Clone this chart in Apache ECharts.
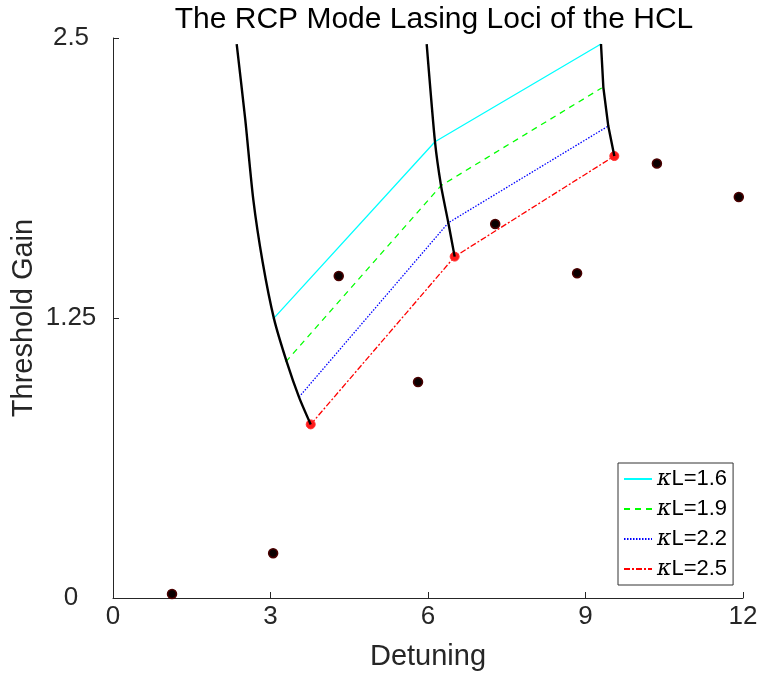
<!DOCTYPE html>
<html>
<head>
<meta charset="utf-8">
<script src="https://cdn.jsdelivr.net/npm/echarts@6/dist/echarts.min.js"></script>
<style>
  html, body { margin: 0; padding: 0; background: #fff; }
  #chart { width: 759px; height: 677px; }
</style>
</head>
<body>
<div id="chart"></div>
<script>
// Threshold gain vs detuning for the RCP lasing modes
const xTicks = [0, 3, 6, 9, 12];
const yTicks = [0, 1.25, 2.5];

// kappa*L loci (three mode branches each)
const kL16 = [[3.048, 1.245], [6.133, 2.037], [9.295, 2.473]];
const kL19 = [[3.290, 1.054], [6.248, 1.841], [9.308, 2.277]];
const kL22 = [[3.543, 0.897], [6.387, 1.675], [9.434, 2.107]];
const kL25 = [[3.766, 0.775], [6.508, 1.524], [9.549, 1.973]];

// mode branches traced as kappa*L varies
const branch1 = [[2.356, 2.473], [2.52, 2.134], [2.673, 1.777], [2.85, 1.50], [3.067, 1.246], [3.309, 1.054], [3.543, 0.897], [3.766, 0.775]];
const branch2 = [[5.975, 2.473], [6.133, 2.037], [6.248, 1.841], [6.387, 1.675], [6.508, 1.524]];
const branch3 = [[9.295, 2.473], [9.34, 2.28], [9.434, 2.107], [9.549, 1.973]];

// uncoupled cavity modes
const cavityModes = [[1.124, 0.018], [3.05, 0.20], [4.30, 1.4375], [5.81, 0.964], [7.28, 1.67], [8.84, 1.45], [10.36, 1.94], [11.92, 1.79]];
// lasing modes at kappa*L = 2.5
const lasingModes = [[3.766, 0.775], [6.508, 1.524], [9.549, 1.973]];

const seriesNames = ['\u03baL=1.6', '\u03baL=1.9', '\u03baL=2.2', '\u03baL=2.5'];
const FONT = 'Liberation Sans, Arial, sans-serif';
const AX = '#262626';

const chart = echarts.init(document.getElementById('chart'), null, { renderer: 'canvas' });

function locus(name, data, color, type) {
  return {
    name: name, type: 'line', data: data, symbol: 'none', z: 3,
    lineStyle: { color: color, width: 1.3, type: type },
    itemStyle: { color: color }
  };
}
function branch(data, smooth) {
  return {
    type: 'line', data: data, symbol: 'none', smooth: smooth, z: 5,
    lineStyle: { color: '#000', width: 2.4, join: 'round' }
  };
}

chart.setOption({
  animation: false,
  title: {
    text: 'The RCP Mode Lasing Loci of the HCL',
    left: 429, top: 0, textAlign: 'center',
    textStyle: { fontFamily: FONT, fontSize: 30, fontWeight: 'normal', color: '#000' }
  },
  grid: { left: 113, right: 16, top: 38, bottom: 79, outerBoundsMode: 'none', containLabel: false },
  xAxis: {
    type: 'value', min: 0, max: 12, interval: 3,
    name: 'Detuning', nameLocation: 'middle', nameGap: 44,
    nameTextStyle: { fontFamily: FONT, fontSize: 29, color: AX },
    axisLine: { lineStyle: { color: AX, width: 1 } },
    axisTick: { inside: true, length: 6, lineStyle: { color: AX } },
    axisLabel: { fontFamily: FONT, fontSize: 26, color: AX, margin: 6,
      formatter: v => xTicks.includes(v) ? String(v) : '' },
    splitLine: { show: false }
  },
  yAxis: {
    type: 'value', min: 0, max: 2.5, interval: 1.25,
    name: 'Threshold Gain', nameLocation: 'middle', nameGap: 75, nameMoveOverlap: false,
    nameTextStyle: { fontFamily: FONT, fontSize: 29, color: AX },
    axisLine: { show: true, lineStyle: { color: AX, width: 1 } },
    axisTick: { show: true, inside: true, length: 6, lineStyle: { color: AX } },
    axisLabel: { fontFamily: FONT, fontSize: 26, color: AX, margin: 42, align: 'center',
      formatter: v => yTicks.includes(v) ? String(v) : '' },
    splitLine: { show: false }
  },
  legend: {
    data: seriesNames,
    orient: 'vertical', left: 618, top: 463,
    backgroundColor: '#fff', borderColor: '#333', borderWidth: 1,
    padding: [5, 6, 5, 5], itemGap: 8, itemWidth: 28, itemHeight: 23,
    itemStyle: { opacity: 0 },
    textStyle: {
      fontFamily: FONT, fontSize: 22, color: '#000',
      rich: { k: { fontFamily: 'DejaVu Serif, serif', fontStyle: 'italic', fontSize: 22, color: '#000' } }
    },
    formatter: n => '{k|\u03ba}' + n.slice(1)
  },
  series: [
    locus(seriesNames[0], kL16, '#00ffff', 'solid'),
    locus(seriesNames[1], kL19, '#00ff00', [6, 5]),
    locus(seriesNames[2], kL22, '#0000ff', [1.5, 1.5]),
    locus(seriesNames[3], kL25, '#ff0000', [6, 2, 2, 2]),
    {
      type: 'scatter', data: lasingModes, symbol: 'circle', symbolSize: 9, z: 4,
      itemStyle: { color: '#ff1a1a', borderColor: '#ff3030', borderWidth: 1, opacity: 1 }
    },
    branch(branch1, 0.25), branch(branch2, 0.2), branch(branch3, false),
    {
      type: 'scatter', data: cavityModes, symbol: 'circle', symbolSize: 9, z: 6,
      itemStyle: { color: '#0a0000', borderColor: '#4a0000', borderWidth: 1.5, opacity: 1 }
    }
  ]
});
</script>
</body>
</html>
